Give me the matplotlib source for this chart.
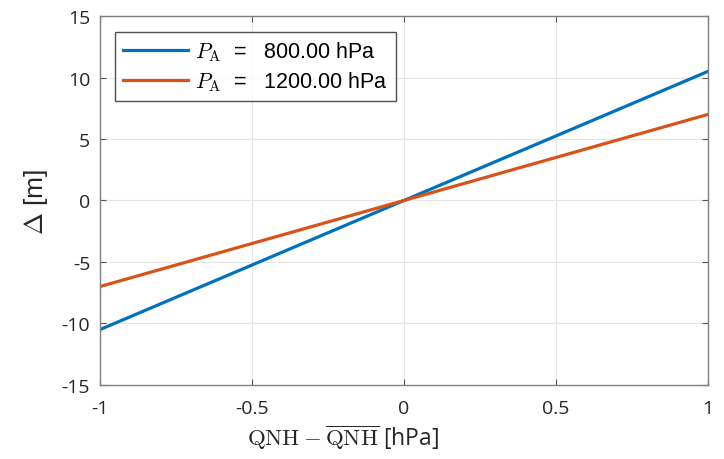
import numpy as np
import matplotlib
matplotlib.use('Agg')
import matplotlib.pyplot as plt

# --- data ---
qnh_diff = [-1.0, 1.0]
delta_800 = [-10.5, 10.5]
delta_1200 = [-7.0, 7.0]
labels = [r'$P_\mathrm{A}$  =   800.00 hPa', r'$P_\mathrm{A}$  =   1200.00 hPa']
x_ticks = [-1, -0.5, 0, 0.5, 1]
x_ticklabels = ['-1', '-0.5', '0', '0.5', '1']
y_ticks = [-15, -10, -5, 0, 5, 10, 15]

plt.rcParams['font.family'] = ['Open Sans', 'DejaVu Sans']
plt.rcParams['mathtext.fontset'] = 'cm'
plt.rcParams['axes.unicode_minus'] = False

fig = plt.figure(figsize=(7.24, 4.6), dpi=100)
ax = fig.add_axes([0.138, 0.161, 0.840, 0.802])

ax.plot(qnh_diff, delta_800, color='#0072BD', lw=2.3, label=labels[0])
ax.plot(qnh_diff, delta_1200, color='#D95319', lw=2.3, label=labels[1])

ax.set_xlim(-1, 1)
ax.set_ylim(-15, 15)
ax.set_xticks(x_ticks)
ax.set_xticklabels(x_ticklabels)
ax.set_yticks(y_ticks)
ax.grid(True, color='#e6e6e6', lw=0.8)
ax.set_axisbelow(True)
ax.tick_params(direction='in', length=4, color='#555555', labelsize=14,
               labelcolor='#262626', top=True, right=True)
ax.tick_params(axis='x', pad=10)
ax.tick_params(axis='y', pad=7)
for s in ax.spines.values():
    s.set_color('#7f7f7f')
    s.set_linewidth(1.0)

ax.set_ylabel(r'$\Delta$ [m]', fontsize=19, color='#262626', labelpad=8,
              family=['Liberation Sans', 'DejaVu Sans'])
ax.set_xlabel(r'$\mathrm{QNH} - \overline{\mathrm{QNH}}$ [hPa]', fontsize=16.5,
              color='#262626')
ax.xaxis.set_label_coords(0.40, -0.10, transform=ax.transAxes)
ax.xaxis.label.set_va('top')

leg = ax.legend(loc='upper left', bbox_to_anchor=(0.015, 0.975),
                prop={'family': ['Liberation Sans', 'DejaVu Sans'], 'size': 15.5},
                frameon=True, fancybox=False, edgecolor='#262626',
                handlelength=3.0, handletextpad=0.35, borderpad=0.35,
                labelspacing=0.3, borderaxespad=0.3)
leg.get_frame().set_linewidth(1.0)

fig.savefig('out.png', dpi=100)
